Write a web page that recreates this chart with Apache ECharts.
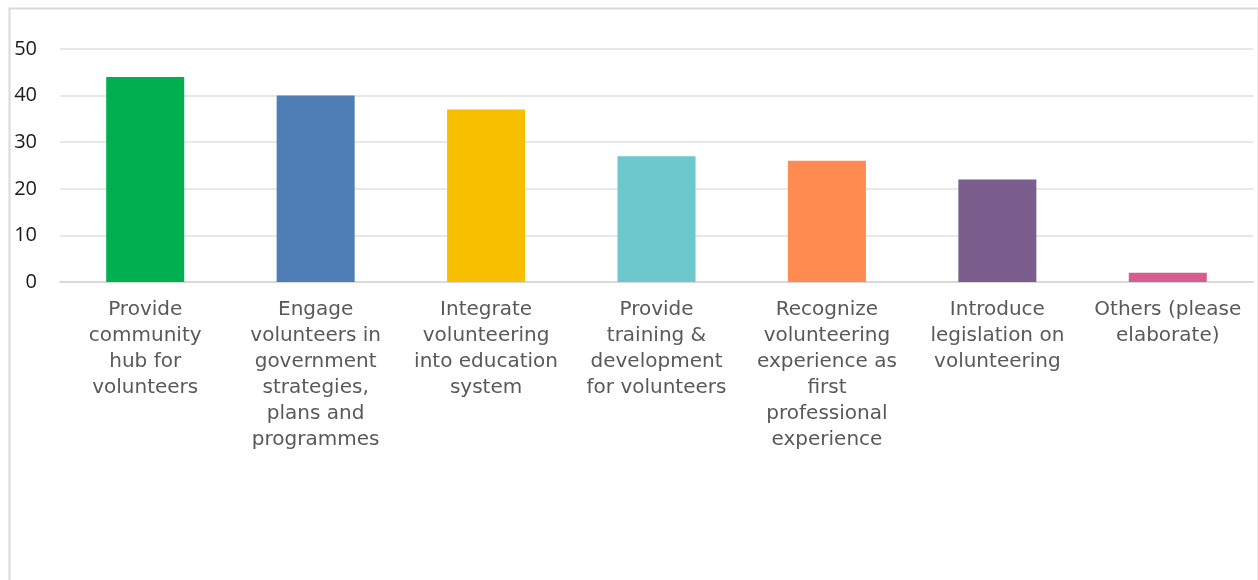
<!DOCTYPE html>
<html>
<head>
<meta charset="utf-8">
<script src="https://cdn.jsdelivr.net/npm/echarts@6/dist/echarts.min.js"></script>
<style>
  html, body { margin: 0; padding: 0; background: #ffffff; }
  #chart { width: 1258px; height: 580px; }
</style>
</head>
<body>
<div id="chart"></div>
<script>
// Suggested actions to support volunteering (number of responses)
const categories = [
  'Provide\ncommunity\nhub for\nvolunteers',
  'Engage\nvolunteers in\ngovernment\nstrategies,\nplans and\nprogrammes',
  'Integrate\nvolunteering\ninto education\nsystem',
  'Provide\ntraining &\ndevelopment\nfor volunteers',
  'Recognize\nvolunteering\nexperience as\nfirst\nprofessional\nexperience',
  'Introduce\nlegislation on\nvolunteering',
  'Others (please\nelaborate)'
];
const responses = [44, 40, 37, 27, 26, 22, 2];
const barColors = ['#00B050', '#4F7DB5', '#F8BF00', '#6CC8CC', '#FF8B50', '#7C5E8E', '#D55E8F'];
const yTicks = { min: 0, max: 50, interval: 10 };

const chart = echarts.init(document.getElementById('chart'));
chart.setOption({
  animation: false,
  backgroundColor: '#ffffff',
  graphic: [{
    type: 'rect',
    left: 7, top: 6,
    shape: { width: 1249, height: 620 },
    style: { fill: 'none', stroke: '#d9d9d9', lineWidth: 2 },
    silent: true,
    z: -1
  }],
  grid: { left: 60, right: 5, top: 49, bottom: 298, containLabel: false },
  xAxis: {
    type: 'category',
    data: categories,
    axisLine: { show: true, lineStyle: { color: '#d9d9d9', width: 2 } },
    axisTick: { show: false },
    axisLabel: {
      interval: 0,
      margin: 15,
      color: '#595959',
      fontFamily: '"DejaVu Sans", "Noto Sans", sans-serif',
      fontSize: 20,
      lineHeight: 26
    }
  },
  yAxis: {
    type: 'value',
    min: yTicks.min, max: yTicks.max, interval: yTicks.interval,
    axisLine: { show: false },
    axisTick: { show: false },
    splitLine: { lineStyle: { color: '#e8e8e8', width: 2 } },
    axisLabel: {
      margin: 23,
      color: '#1a1a1a',
      fontFamily: '"Open Sans", "Liberation Sans", sans-serif',
      fontSize: 20
    }
  },
  series: [{
    type: 'bar',
    data: responses.map((v, i) => ({ value: v, itemStyle: { color: barColors[i] } })),
    barWidth: 78
  }]
});
</script>
</body>
</html>
